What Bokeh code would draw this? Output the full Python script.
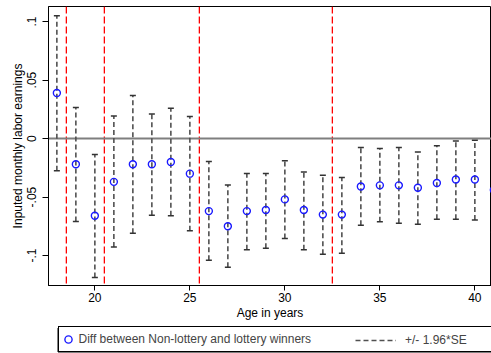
from bokeh.plotting import figure
from bokeh.layouts import column
from bokeh.models import (Span, Legend, LegendItem, FixedTicker, ColumnDataSource,
                          Range1d, BoxAnnotation)
from bokeh.embed import file_html
from bokeh.resources import INLINE

# ---- data ----
ages = list(range(18, 42))
diff = [0.039, -0.022, -0.066, -0.037, -0.022, -0.022, -0.020, -0.030,
        -0.062, -0.075, -0.062, -0.061, -0.052, -0.061, -0.065, -0.065,
        -0.041, -0.040, -0.040, -0.042, -0.038, -0.035, -0.035, -0.044]
upper = [0.105, 0.0265, -0.0137, 0.0194, 0.0368, 0.0211, 0.026, 0.0188,
         -0.0197, -0.0396, -0.0299, -0.0299, -0.019, -0.0285, -0.0313, -0.0333,
         -0.0077, -0.0085, -0.0077, -0.0114, -0.0062, -0.002, -0.0014, -0.0077]
lower = [-0.0276, -0.0709, -0.1188, -0.0927, -0.0809, -0.0655, -0.066, -0.0789,
         -0.104, -0.110, -0.0951, -0.0937, -0.0855, -0.0951, -0.0988, -0.098,
         -0.074, -0.0712, -0.0723, -0.0732, -0.0689, -0.069, -0.0697, -0.080]
cutoff_ages = [18.5, 20.5, 25.5, 32.5]
x_ticks = [20, 25, 30, 35, 40]
y_ticks = [-0.1, -0.05, 0, 0.05, 0.1]
y_tick_labels = ["-.1", "-.05", "0", ".05", ".1"]
series_label = "Diff between Non-lottery and lottery winners"
ci_label = "+/- 1.96*SE"

FONT = "Liberation Sans"
PT_STYLE = dict(marker="circle", size=7, fill_color=None, line_color="#1a1aff",
                line_width=1.4)
EB_STYLE = dict(line_color="#505050", line_width=1.6, line_dash="5 3")

src = ColumnDataSource(dict(age=ages, diff=diff, upper=upper, lower=lower))

p = figure(width=491, height=323, output_backend="svg", toolbar_location=None,
           x_range=Range1d(17.56, 40.876), y_range=Range1d(-0.1256, 0.1129),
           min_border_left=48, min_border_right=0, min_border_top=6,
           min_border_bottom=38)

p.background_fill_color = "white"
p.border_fill_color = "white"
p.outline_line_color = "black"
p.outline_line_width = 1
p.xgrid.visible = False
p.ygrid.visible = False

# reference lines
for c in cutoff_ages:
    p.add_layout(Span(location=c, dimension="height", line_color="#ff0000",
                      line_width=1.3, line_dash="7 3", level="underlay"))
p.add_layout(Span(location=0, dimension="width", line_color="#7f7f7f",
                  line_width=2, level="underlay"))

# error bars
p.segment(x0="age", y0="lower", x1="age", y1="upper", source=src, **EB_STYLE)
p.scatter(x="age", y="upper", source=src, marker="dash", size=6,
          line_color="#333333", line_width=1.5)
p.scatter(x="age", y="lower", source=src, marker="dash", size=6,
          line_color="#333333", line_width=1.5)
p.scatter(x="age", y="diff", source=src, **PT_STYLE)

# axes
p.xaxis.ticker = FixedTicker(ticks=x_ticks)
p.yaxis.ticker = FixedTicker(ticks=y_ticks)
p.yaxis.major_label_overrides = {t: l for t, l in zip(y_ticks, y_tick_labels)}
p.yaxis.major_label_orientation = "vertical"
p.axis.minor_tick_line_color = None
p.axis.major_tick_in = 0
p.xaxis.major_tick_out = 5
p.yaxis.major_tick_out = 6
p.axis.axis_line_color = "black"
p.axis.major_tick_line_color = "black"
p.axis.major_label_text_font = FONT
p.axis.major_label_text_font_size = "12px"
p.axis.major_label_text_color = "black"
p.axis.axis_label_text_font = FONT
p.axis.axis_label_text_font_size = "12px"
p.axis.axis_label_text_font_style = "normal"
p.axis.axis_label_text_color = "black"
p.xaxis.major_label_standoff = 2
p.xaxis.axis_label_standoff = 1
p.yaxis.major_label_standoff = 6
p.yaxis.axis_label_standoff = 0
p.xaxis.axis_label = "Age in years"
p.yaxis.axis_label = "Inputed monthly labor earnings"

# ---- legend strip below the chart (its frame is aligned with the chart's) ----
lg = figure(width=491, height=30, output_backend="svg", toolbar_location=None,
            x_range=Range1d(17.56, 40.876), y_range=Range1d(-0.1256, 0.1129),
            x_axis_type=None, y_axis_type=None,
            min_border_left=0, min_border_right=0, min_border_top=0,
            min_border_bottom=0)
lg.outline_line_color = None
lg.xgrid.visible = False
lg.ygrid.visible = False
lg.background_fill_color = "white"
lg.border_fill_color = "white"
pts_k = lg.scatter(x="age", y="diff", source=src, visible=False, **PT_STYLE)
eb_k = lg.segment(x0="age", y0="lower", x1="age", y1="upper", source=src,
                  visible=False, **EB_STYLE)

leg1 = Legend(items=[LegendItem(label=series_label, renderers=[pts_k])],
              location=(9.5, 1.5), orientation="horizontal", padding=0, margin=0,
              glyph_width=18, glyph_height=24, label_height=24, label_standoff=2,
              label_width=412, border_line_color="black", border_line_alpha=1.0,
              border_line_width=1,
              label_text_font=FONT, label_text_font_size="12px",
              background_fill_color="white", background_fill_alpha=1)
leg2 = Legend(items=[LegendItem(label=ci_label, renderers=[eb_k])],
              location=(307, 1.5), orientation="horizontal", padding=0, margin=0,
              glyph_width=41, glyph_height=24, label_height=24, label_standoff=9,
              border_line_color=None, background_fill_alpha=0,
              label_text_font=FONT, label_text_font_size="12px")
lg.add_layout(leg1)
lg.add_layout(leg2)
# legend frame box
lg.add_layout(BoxAnnotation(left=9.5, right=442.5, bottom=1.5, top=25.5,
                            left_units="screen", right_units="screen",
                            bottom_units="screen", top_units="screen",
                            fill_alpha=0, fill_color=None, line_color="black",
                            line_alpha=1.0, line_width=1))

open("out.html", "w").write(file_html(column(p, lg, spacing=0), INLINE))
